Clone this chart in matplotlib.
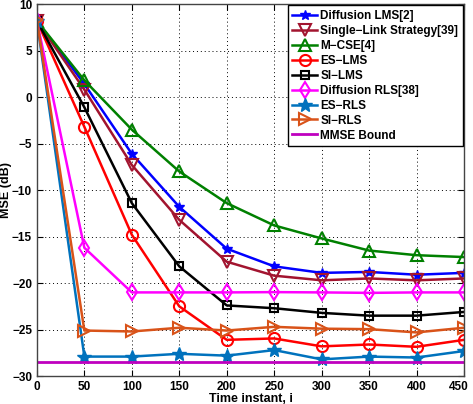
import numpy as np
import matplotlib
matplotlib.use('Agg')
import matplotlib.pyplot as plt
import matplotlib.transforms as mtransforms

plt.rcParams['font.family'] = ['Liberation Sans', 'DejaVu Sans']
plt.rcParams['font.weight'] = 'bold'
plt.rcParams['axes.unicode_minus'] = True

t = [0, 50, 100, 150, 200, 250, 300, 350, 400, 450]

diff_lms = [8.2, 1.4, -6.1, -11.8, -16.3, -18.2, -18.9, -18.8, -19.1, -18.9]
single_link = [8.2, 0.8, -7.3, -13.2, -17.7, -19.2, -19.7, -19.5, -19.7, -19.5]
m_cse = [8.2, 1.8, -3.5, -8.0, -11.4, -13.8, -15.2, -16.5, -17.0, -17.2]
es_lms = [8.2, -3.2, -14.8, -22.5, -26.1, -25.95, -26.8, -26.6, -26.85, -26.1]
si_lms = [8.2, -1.1, -11.4, -18.2, -22.4, -22.7, -23.2, -23.5, -23.5, -23.1]
diff_rls = [8.2, -16.2, -21.0, -21.0, -21.0, -20.97, -21.0, -21.05, -21.0, -21.0]
es_rls = [8.2, -27.9, -27.9, -27.6, -27.8, -27.2, -28.2, -27.9, -28.0, -27.3]
si_rls = [8.3, -25.1, -25.2, -24.8, -25.1, -24.7, -24.9, -24.95, -25.3, -24.8]
mmse = -28.45

labels = ['Diffusion LMS[2]', 'Single\u2212Link Strategy[39]', 'M\u2212CSE[4]', 'ES\u2212LMS',
          'SI\u2212LMS', 'Diffusion RLS[38]', 'ES\u2212RLS', 'SI\u2212RLS', 'MMSE Bound']

fig = plt.figure(figsize=(4.73, 4.04), dpi=100)
ax = fig.add_axes([0.078, 0.069, 0.903, 0.921])

mfc = 'none'
ax.plot(t, diff_lms, color='#0000FF', marker='*', ms=7, lw=1.8, label=labels[0])
ax.plot(t, single_link, color='#A2142F', marker='v', ms=8, lw=1.8, mfc=mfc, mew=1.5, label=labels[1])
ax.plot(t, m_cse, color='#008000', marker='^', ms=9, lw=1.8, mfc=mfc, mew=1.5, label=labels[2])
ax.plot(t, es_lms, color='#FF0000', marker='o', ms=8, lw=1.8, mfc=mfc, mew=1.5, label=labels[3])
ax.plot(t, si_lms, color='#000000', marker='s', ms=6, lw=1.8, mfc=mfc, mew=1.5, label=labels[4])
ax.plot(t, diff_rls, color='#FF00FF', marker='d', ms=8, lw=1.8, mfc=mfc, mew=1.5, label=labels[5])
ax.plot(t, es_rls, color='#0072BD', marker='*', ms=10, lw=1.8, label=labels[6])
ax.plot(t, si_rls, color='#D95319', marker='>', ms=9, lw=1.8, mfc=mfc, mew=1.5, label=labels[7])
ax.plot([t[0], t[-1]], [mmse, mmse], color='#BF00BF', lw=2, label=labels[8])

ax.set_xlim(0, 450)
ax.set_ylim(-30, 10)
ax.set_xticks(t)
ax.set_yticks(np.arange(-30, 11, 5))
ax.tick_params(direction='in', top=True, right=True, labelsize=8.5, length=4)
for lab in ax.get_xticklabels() + ax.get_yticklabels():
    lab.set_fontweight('bold')
# pull the last x label a bit left so it stays inside the figure
last = ax.get_xticklabels()[-1]
last.set_transform(last.get_transform() + mtransforms.ScaledTranslation(-5 / 100, 0, fig.dpi_scale_trans))
ax.grid(True, color='black', linestyle=(0, (1, 3)), linewidth=0.7)
ax.set_xlabel('Time instant, i', fontsize=9, fontweight='bold', labelpad=0)
ax.set_ylabel('MSE (dB)', fontsize=9, fontweight='bold', labelpad=0)
for s in ax.spines.values():
    s.set_linewidth(1.0)
    s.set_color('#444444')

leg = ax.legend(loc='upper right', prop={'weight': 'bold', 'size': 8.5},
                fancybox=False, edgecolor='black', framealpha=1,
                borderaxespad=0.1, handlelength=2.1, labelspacing=0.25,
                borderpad=0.4, handletextpad=0.25)
leg.get_frame().set_linewidth(1.0)

fig.savefig('out.png', dpi=100)
